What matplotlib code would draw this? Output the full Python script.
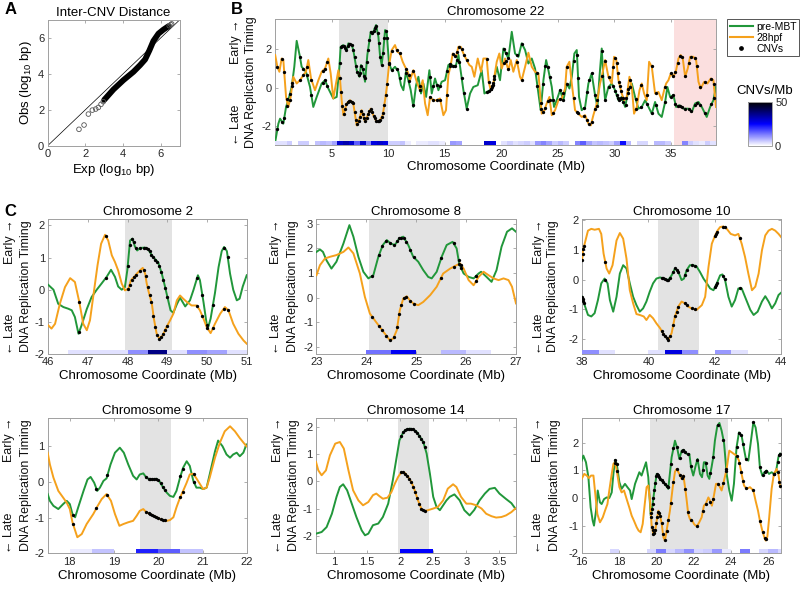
import numpy as np
import matplotlib
matplotlib.use('Agg')
import matplotlib.pyplot as plt
from matplotlib.colors import LinearSegmentedColormap, Normalize
from matplotlib.cm import ScalarMappable
from matplotlib.lines import Line2D
from matplotlib.ticker import FormatStrFormatter

plt.rcParams['font.family'] = ['Liberation Sans', 'DejaVu Sans']
plt.rcParams['mathtext.default'] = 'regular'

# ---------------- data ----------------
# A: QQ plot of inter-CNV distances (log10 bp)
a_sparse_x = [1.66, 1.93, 2.16, 2.37, 2.55, 2.69, 2.83, 2.95, 6.45, 6.53, 6.58]
a_sparse_y = [0.91, 1.15, 1.76, 1.98, 2.04, 2.13, 2.30, 2.45, 6.68, 6.74, 6.78]
a_dense_x = [3.0, 3.49, 4.02, 4.55, 4.9, 5.17, 5.4, 5.61, 5.88, 6.14, 6.41]
a_dense_y = [2.55, 3.13, 3.65, 4.11, 4.48, 4.8, 5.31, 5.83, 6.24, 6.46, 6.65]

# B: chromosome 22
b_pre_x = [0, 0.28, 0.43, 0.72, 0.96, 1.16, 1.46, 1.69, 1.9, 2.19,
           2.34, 2.72, 3.08, 3.37, 3.67, 4.11, 4.41, 4.7, 5.14, 5.44,
           5.68, 5.79, 6.03, 6.32, 6.47, 6.77, 6.91, 7.21, 7.45, 7.59,
           7.74, 7.95, 8.15, 8.45, 8.63, 8.74, 8.92, 9.13, 9.27, 9.42,
           9.57, 9.72, 9.86, 10.07, 10.31, 10.6, 10.9, 11.13, 11.34, 11.57,
           11.78, 11.99, 12.22, 12.46, 12.67, 12.9, 13.11, 13.35, 13.64, 13.85,
           14.14, 14.44, 14.73, 15.03, 15.32, 15.53, 15.76, 16.0, 16.21, 16.65,
           16.94, 17.24, 17.53, 17.92, 18.27, 18.51, 18.71, 19.01, 19.3, 19.6,
           19.89, 20.19, 20.42, 20.63, 20.93, 21.22, 21.52, 21.81, 22.11, 22.4,
           22.7, 22.99, 23.29, 23.49, 23.73, 23.97, 24.17, 24.47, 24.67, 24.91,
           25.2, 25.5, 25.79, 26.03, 26.24, 26.47, 26.68, 26.88, 27.12, 27.42,
           27.71,
           28.0, 28.3, 28.51, 28.69, 28.89, 29.04, 29.19, 29.48, 29.78, 30.07,
           30.37, 30.66, 30.96, 31.25, 31.55, 31.84, 32.14, 32.43, 32.73, 33.02,
           33.32, 33.61, 33.91, 34.2, 34.5, 34.7, 34.94, 35.23, 35.47, 35.77,
           36.12, 36.56, 36.86, 37.15, 37.45, 37.74, 38.18, 38.48, 38.77, 39.0]
b_pre_y = [-2.83, -1.88, -1.62, -1.88, -1.01, -0.66, 0.03, 1.08, 2.43, 1.6,
           1.08, 0.82, 0.03, -1.01, -0.49, 0.21, 0.38, -0.05, -0.57, -0.49,
           1.08, 2.12, 2.21, 1.95, 2.3, 2.21, 1.95, 0.9, 0.56, 1.17,
           0.99, 0.3, 1.69, 2.9, 2.82, 2.99, 3.25, 2.64, 1.69, 1.17,
           1.95, 2.99, 2.9, 1.25, 0.9, 1.08, 0.82, 0.12, -0.14, 0.82,
           0.38, -0.14, -1.01, 0.12, 0.56, -0.31, 0.21, -0.49, 0.9, -0.31,
           0.47, -0.14, 0.3, 0.38, 1.17, 1.25, 1.08, 1.17, 1.7, -0.14,
           -1.1, -0.31, 0.03, 0.12, 0.9, -0.31, -0.23, -0.14, 0.12, 1.08,
           0.38, 2.03, 1.77, 1.51, 2.9, 1.77, 1.6, 2.3, 1.95, 1.25,
           1.51, 0.99, -0.31, -1.18, 0.38, 1.43, 0.9, 0.03, -1.01, -0.66,
           -0.14, -0.66, 0.21, -0.05, 0.56, 1.77, 1.95, -0.49, -1.18, -1.01,
           0.21,
           0.73, -0.4, -1.0, 0.56, 2.03, 0.38, -0.66, 0.03, 0.21, -0.14,
           -0.66, -0.49, -1.01, -0.14, 0.21, -0.49, -1.1, -1.01, -0.66, -1.01,
           -1.36, -0.75, -1.36, -1.53, -0.75, 0.03, -0.49, -0.4, -1.01, -0.92,
           -1.1, -1.1, -1.27, -0.83, -0.75, -1.01, -1.53, -1.01, -0.66, 0.03]
b_28_x = [0, 0.19, 0.37, 0.57, 0.72, 0.96, 1.16, 1.37, 1.6, 1.9,
          2.19, 2.49, 2.72, 2.93, 3.17, 3.52, 3.82, 4.11, 4.41, 4.7,
          4.91, 5.14, 5.38, 5.59, 5.74, 5.88, 6.03, 6.32, 6.62, 6.91,
          7.21, 7.45, 7.65, 7.95, 8.18, 8.45, 8.68, 8.98, 9.27, 9.51,
          9.72, 9.86, 10.07, 10.31, 10.6, 10.81, 11.04, 11.28, 11.49, 11.72,
          11.93, 12.22, 12.52, 12.81, 13.05, 13.26, 13.49, 13.7, 13.99, 14.29,
          14.58, 14.88, 15.11, 15.32, 15.53, 15.71, 16.0, 16.21, 16.41, 16.65,
          16.94, 17.18, 17.39, 17.62, 17.92, 18.21, 18.42, 18.71, 18.89, 19.07,
          19.3, 19.6, 19.83, 20.04, 20.34, 20.63, 20.84, 21.07, 21.37, 21.66,
          21.81, 22.11, 22.4, 22.7, 22.99, 23.29, 23.58, 23.82, 24.02, 24.26,
          24.47, 24.76, 25.06, 25.35, 25.65, 25.79, 26.03, 26.24, 26.53, 26.83,
          27.12, 27.42, 27.71, 27.92, 28.15, 28.45, 28.74,
          28.89, 29.19, 29.48, 29.78, 29.98, 30.16, 30.37, 30.66, 30.87, 31.1,
          31.34, 31.55, 31.75, 31.99, 32.23, 32.43, 32.64, 32.87, 33.08, 33.32,
          33.61, 33.91, 34.2, 34.41, 34.59, 34.79, 35.0, 35.23, 35.47, 35.68,
          35.88, 36.06, 36.27, 36.5, 36.71, 37.0, 37.24, 37.45, 37.65, 37.95,
          38.24, 38.54, 38.77, 39.0]
b_28_y = [1.69, 1.08, 0.82, 1.51, 1.43, -0.49, -1.01, -0.49, 0.56, 0.21,
          0.38, 0.64, 0.82, 1.43, 0.47, -0.14, 0.38, 0.82, 0.99, 1.51,
          0.73, -0.57, 0.21, 0.9, 0.38, -0.66, -1.44, -0.83, -0.66, -0.83,
          -1.97, -1.62, -1.18, -1.79, -1.44, -1.1, -1.44, -1.79, -1.7, -1.44,
          -0.66, -0.05, 1.17, 1.95, 2.21, 1.86, 1.77, 1.34, 1.08, 0.82,
          0.38, 0.9, 0.3, -0.14, 0.38, -0.83, -1.44, -0.49, -0.66, -0.66,
          -0.57, -1.44, -1.18, 0.64, 1.17, 1.77, 1.6, 2.12, 2.12, 1.77,
          1.43, 1.17, 1.08, 0.56, 1.51, 0.82, 1.51, 1.51, 0.3, -0.14,
          0.21, 1.34, 1.77, 0.99, 1.51, 0.9, 1.43, 0.82, 1.43, 0.56,
          0.38, 1.08, 1.81, 1.08, 0.82, 0.73, -1.36, -1.18, -0.83, -0.49,
          -1.44, -1.18, -0.66, -0.57, -0.05, 1.08, 1.34, 0.21, -1.18, -1.36,
          -1.53, -1.44, -1.88, -1.97, -1.44, -0.83, 0.21,
          0.56, 1.43, 0.56, 0.21, 1.6, 1.51, 0.38, -0.31, -0.66, -0.49,
          0.56, 0.03, -1.36, -1.01, -0.14, 0.21, -0.31, -0.66, 1.34, 1.08,
          -0.31, -0.23, -0.66, -0.14, 0.21, 0.38, 0.73, 0.56, 0.9, 1.51,
          1.69, 1.51, 0.56, 0.99, 1.6, 1.6, 1.43, 0.3, -0.05, 0.3,
          0.21, 0.47, 0.38, -1.01]
b_cnv = [0.2, 0.6, 0.8, 1.0, 1.3, 1.5, 2.2, 2.5, 2.8, 3.2, 4.2, 4.4, 4.6,
         5.7, 5.82, 5.94, 6.06, 6.18, 6.3, 6.42, 6.54, 6.66, 6.78, 6.9, 7.02,
         7.14, 7.26, 7.38, 7.5, 7.62, 7.74, 7.86, 7.98, 8.1, 8.22, 8.34, 8.46,
         8.58, 8.7, 8.82, 8.94, 9.06, 9.18, 9.3, 9.42, 9.54, 9.66, 9.78, 9.9,
         10.1, 10.3, 10.75, 11.0, 11.6, 11.8, 12.2, 12.8, 13.7, 14.0, 14.3,
         14.6, 15.2, 15.5, 15.7, 15.9, 16.1, 16.3, 16.5, 16.7, 16.94, 18.7,
         18.9, 19.1, 19.2, 19.3, 19.4, 20.2, 20.4, 20.6, 21.4, 21.8, 23.2,
         23.5, 23.7, 23.9, 24.1, 24.3, 24.6, 25.2, 25.5, 25.8, 26.4, 26.7,
         26.8, 27.3, 27.6, 27.8, 28.0, 28.3, 28.5, 28.9, 29.2, 29.5, 29.9,
         30.1, 30.2, 30.3, 30.4, 30.5, 30.6, 30.8, 31.0, 31.2, 31.4, 31.9,
         32.4, 32.9, 33.3, 33.7, 34.5, 35.0, 35.2, 35.4, 35.6, 35.8, 36.0,
         36.3, 36.6, 36.8, 37.1, 37.3, 37.6, 38.0, 38.6, 38.8]
b_density = [3, 3, 5, 0, 5, 5, 0, 6, 7, 6,
             9, 30, 33, 30, 16, 30, 12, 28, 30, 28,
             5, 5, 6, 2, 0, 2, 2, 3, 3, 2,
             0, 10, 9, 0, 0, 0, 0, 30, 28, 0,
             3, 5, 3, 4, 5, 3, 10, 12, 9, 5,
             7, 5, 0, 12, 16, 9, 6, 7, 6, 5,
             9, 24, 7, 0, 4, 4, 0, 7, 7, 5,
             0, 0, 12, 5, 3, 2, 5, 3]
b_shade = (5.65, 10.0)
b_pink = (35.3, 39.0)

# C: chromosome 2
c2_pre_x = [46.0, 46.13, 46.25, 46.38, 46.5, 46.59, 46.67, 46.76, 46.84, 46.97,
            47.09, 47.22, 47.34, 47.47, 47.58, 47.68, 47.76, 47.85, 47.93, 47.99,
            48.06, 48.12, 48.18, 48.24, 48.31, 48.44, 48.52, 48.61, 48.69, 48.77,
            48.86, 48.94, 49.03, 49.08, 49.15, 49.24, 49.32, 49.45, 49.57, 49.66,
            49.77, 49.82, 49.91, 49.99, 50.03, 50.09, 50.2, 50.29, 50.37, 50.43,
            50.5, 50.58, 50.66, 50.75, 50.82, 50.9, 51.0]
c2_pre_y = [0.15, 0.0, -0.44, -0.54, -0.59, -0.64, -0.85, -1.37, -1.1, -0.6,
            -0.23, 0.0, 0.19, 0.4, 0.62, 0.4, 0.1, 0.0, 0.08, 0.6,
            1.53, 1.59, 1.35, 1.22, 1.3, 1.31, 1.25, 1.07, 0.95, 0.85,
            0.5, 0.1, -0.38, -0.64, -0.72, -0.45, -0.25, -0.52, -0.33, 0.0,
            0.45, 0.3, -0.38, -1.06, -1.16, -0.9, -0.1, 0.7, 1.2, 1.33,
            1.2, 0.5, 0.0, -0.33, -0.28, 0.1, 0.45]
c2_28_x = [46.0, 46.08, 46.17, 46.29, 46.42, 46.55, 46.67, 46.78, 46.88, 46.97,
           47.05, 47.13, 47.24, 47.33, 47.43, 47.51, 47.6, 47.68, 47.76, 47.85,
           47.93, 48.02, 48.08, 48.14, 48.23, 48.31, 48.38, 48.44, 48.48, 48.53,
           48.61, 48.66, 48.73, 48.8, 48.88, 48.98, 49.07, 49.15, 49.24, 49.32,
           49.4, 49.49, 49.61, 49.74, 49.82, 49.91, 49.99, 50.09, 50.2, 50.33,
           50.45, 50.54, 50.66, 50.79, 50.92, 51.0]
c2_28_y = [-1.11, -1.21, -1.06, -0.44, 0.08, 0.36, 0.24, -0.38, -1.06, -1.26,
           -0.95, -0.23, 0.76, 1.43, 1.71, 1.53, 1.07, 0.86, 0.6, 0.19,
           -0.02, 0.03, 0.29, 0.37, 0.5, 0.6, 0.68, 0.5, 0.19, -0.07,
           -0.44, -0.9, -1.37, -1.52, -1.42, -1.16, -0.95, -0.75, -0.33, -0.18,
           -0.28, -0.38, -0.49, -0.49, -0.64, -0.9, -1.16, -1.35, -1.06, -0.75,
           -0.54, -0.64, -1.06, -1.37, -1.58, -1.68]
c2_cnv = [46.78, 47.45, 48.0, 48.05, 48.1, 48.15, 48.2, 48.3, 48.4, 48.45,
          48.5, 48.55, 48.6, 48.65, 48.7, 48.75, 48.8, 48.85, 48.9, 48.95,
          49.0, 49.75, 49.88, 50.0, 50.15, 50.42, 50.52]
c2_density = [3, 3, 3, 11, 37, 3, 11, 9, 3]
c2_strip_start = 46.5
c2_shade = (47.92, 49.12)

# C: chromosome 8
c8_pre_x = [23.0, 23.07, 23.13, 23.2, 23.3, 23.4, 23.54, 23.66, 23.74, 23.84,
            23.94, 24.04, 24.14, 24.24, 24.33, 24.41, 24.49, 24.57, 24.66, 24.74,
            24.84, 24.94, 25.04, 25.14, 25.24, 25.31, 25.41, 25.51, 25.61, 25.73,
            25.81, 25.86, 25.95, 26.05, 26.15, 26.25, 26.3, 26.41, 26.51, 26.61,
            26.71, 26.82, 26.92, 27.0]
c8_pre_y = [1.86, 1.96, 1.86, 1.52, 1.18, 1.46, 2.2, 2.95, 2.48, 1.66,
            1.05, 0.78, 0.91, 1.66, 2.14, 2.34, 2.2, 2.14, 2.41, 2.48,
            2.14, 1.66, 1.46, 1.12, 0.84, 0.78, 1.05, 1.66, 2.14, 2.27,
            2.0, 1.39, 0.98, 0.84, 0.78, 0.98, 1.05, 0.84, 0.64, 1.12,
            2.07, 2.68, 2.82, 2.68]
c8_28_x = [23.0, 23.07, 23.17, 23.27, 23.4, 23.54, 23.64, 23.74, 23.87, 23.97,
           24.07, 24.17, 24.27, 24.37, 24.47, 24.54, 24.61, 24.67, 24.74, 24.81,
           24.87, 24.94, 25.04, 25.14, 25.28, 25.41, 25.54, 25.68, 25.81, 25.88,
           25.95, 26.05, 26.15, 26.25, 26.35, 26.45, 26.55, 26.65, 26.75, 26.85,
           26.92, 27.0]
c8_28_y = [0.91, 1.32, 1.59, 1.66, 1.73, 1.86, 2.04, 1.8, 0.98, 0.03,
           -0.65, -0.93, -1.2, -1.47, -1.74, -1.67, -1.33, -0.52, -0.04, 0.05,
           -0.11, -0.24, -0.31, -0.18, 0.1, 0.44, 0.98, 1.18, 1.32, 1.39,
           1.18, 0.71, 0.5, 0.84, 1.05, 0.91, 0.78, 0.71, 0.78, 0.71,
           0.44, -0.24]
c8_cnv = [24.12, 24.25, 24.32, 24.4, 24.47, 24.55, 24.62, 24.66, 24.7, 24.75,
          24.8, 24.88, 24.95, 25.5, 25.75, 25.85, 25.9, 26.2]
c8_density = [14, 26, 0, 7, 3]
c8_strip_start = 24.0
c8_shade = (24.06, 25.88)

# C: chromosome 10
c10_pre_x = [38.0, 38.08, 38.18, 38.28, 38.38, 38.48, 38.58, 38.68, 38.77, 38.84,
             38.94, 39.04, 39.14, 39.24, 39.34, 39.44, 39.54, 39.64, 39.74, 39.84,
             39.94, 40.04, 40.14, 40.24, 40.35, 40.47, 40.6, 40.7, 40.8, 40.9,
             41.0, 41.07, 41.15, 41.25, 41.35, 41.45, 41.55, 41.66, 41.76, 41.86,
             41.96, 42.06, 42.16, 42.23, 42.31, 42.41, 42.51, 42.61, 42.71, 42.81,
             42.91, 43.07, 43.17, 43.29, 43.42, 43.52, 43.62, 43.72, 43.82, 43.92,
             44.0]
c10_pre_y = [-0.58, -0.86, -1.19, -1.24, -1.13, -0.69, -0.13, 0.03, -0.13, -0.69,
             -1.08, -0.58, 0.2, 0.48, 0.37, -0.13, -0.58, -0.86, -1.08, -0.97,
             -0.74, -0.41, -0.13, 0.03, 0.07, 0.03, -0.02, 0.14, 0.37, 0.26,
             -0.02, 0.03, 0.31, 0.48, 0.48, 0.44, 0.26, 0.03, -0.13, -0.3,
             -0.36, -0.13, 0.14, 0.17, -0.02, -0.58, -0.91, -0.69, -0.3, -0.3,
             -0.58, -1.02, -1.19, -1.08, -0.74, -0.56, -0.74, -0.97, -0.8, -0.52,
             -0.44]
c10_28_x = [38.0, 38.03, 38.08, 38.18, 38.28, 38.38, 38.51, 38.58, 38.65, 38.74,
            38.82, 38.92, 39.04, 39.14, 39.24, 39.34, 39.44, 39.54, 39.64, 39.74,
            39.86, 39.94, 40.04, 40.14, 40.24, 40.35, 40.47, 40.6, 40.7, 40.8,
            40.9, 41.0, 41.1, 41.2, 41.3, 41.45, 41.61, 41.71, 41.81, 41.91,
            42.01, 42.08, 42.16, 42.26, 42.36, 42.48, 42.61, 42.71, 42.81, 42.91,
            43.01, 43.12, 43.22, 43.32, 43.42, 43.52, 43.62, 43.72, 43.82, 43.92,
            44.0]
c10_28_y = [0.64, 0.98, 1.2, 1.64, 1.7, 1.67, 1.7, 1.53, 0.87, 0.37,
            0.2, 0.48, 1.31, 1.56, 1.37, 0.7, -0.36, -0.8, -1.16, -1.19,
            -1.24, -1.36, -1.19, -1.3, -1.47, -1.63, -1.86, -2.02, -1.8, -1.24,
            -0.91, -0.74, -0.8, -0.91, -0.97, -1.02, -0.86, -0.58, 0.42, 1.2,
            1.48, 1.64, 1.76, 1.78, 1.7, 1.53, 1.48, 1.53, 1.2, 0.76,
            0.2, -0.36, -0.24, 0.2, 0.98, 1.48, 1.64, 1.7, 1.64, 1.53,
            1.42]
c10_cnv = [38.0, 38.02, 38.04, 38.06, 38.7, 40.4, 40.45, 40.5, 40.55, 40.6,
           40.65, 40.75, 40.8, 40.85, 40.9, 41.1, 41.15, 41.3, 41.4, 42.0,
           42.03, 42.06, 42.25, 42.3, 42.75]
c10_density = [11, 3, 0, 0, 3, 28, 11, 0, 10, 3]
c10_strip_start = 38.0
c10_shade = (40.3, 41.53)

# C: chromosome 9
c9_pre_x = [17.5, 17.55, 17.63, 17.74, 17.85, 17.93, 18.0, 18.06, 18.12, 18.19,
            18.31, 18.4, 18.47, 18.55, 18.62, 18.68, 18.76, 18.83, 18.92, 19.02,
            19.13, 19.22, 19.32, 19.43, 19.51, 19.58, 19.66, 19.73, 19.81, 19.89,
            19.95, 20.02, 20.11, 20.19, 20.26, 20.34, 20.41, 20.49, 20.56, 20.64,
            20.71, 20.79, 20.86, 20.94, 21.01, 21.09, 21.16, 21.28, 21.35, 21.45,
            21.54, 21.62, 21.69, 21.77, 21.84, 21.92, 21.99]
c9_pre_y = [-0.34, -0.53, -0.67, -0.76, -0.62, -0.53, -0.62, -0.9, -0.99, -0.71,
            -0.25, 0.07, 0.14, -0.02, -0.25, -0.16, 0.03, 0.1, 0.49, 0.82,
            0.96, 0.82, 0.49, 0.17, 0.07, 0.21, 0.24, 0.12, 0.07, 0.07,
            0.09, 0.03, -0.16, -0.3, -0.39, -0.42, -0.25, 0.12, 0.4, 0.58,
            0.45, 0.03, -0.16, -0.16, -0.2, -0.16, 0.21, 0.86, 1.16, 1.0,
            0.77, 0.68, 0.77, 0.82, 0.72, 0.82, 1.05]
c9_28_x = [17.5, 17.55, 17.63, 17.74, 17.85, 17.93, 18.0, 18.06, 18.12, 18.17,
           18.27, 18.38, 18.53, 18.63, 18.72, 18.83, 18.93, 19.02, 19.12, 19.21,
           19.32, 19.43, 19.51, 19.58, 19.66, 19.73, 19.81, 19.89, 19.96, 20.04,
           20.11, 20.19, 20.26, 20.34, 20.41, 20.49, 20.56, 20.64, 20.71, 20.79,
           20.86, 20.94, 21.01, 21.09, 21.16, 21.28, 21.39, 21.5, 21.62, 21.73,
           21.84, 21.99]
c9_28_y = [0.82, 0.49, 0.12, -0.25, -0.44, -0.58, -0.76, -1.13, -1.36, -1.55,
           -1.46, -1.18, -0.9, -0.67, -0.48, -0.34, -0.53, -0.9, -1.23, -1.18,
           -1.13, -1.09, -0.95, -0.81, -0.76, -0.85, -0.9, -0.95, -0.99, -1.04,
           -1.07, -1.09, -1.07, -0.99, -0.71, -0.44, -0.25, -0.02, 0.21, 0.23,
           0.1, -0.06, -0.2, -0.16, 0.12, 0.68, 1.1, 1.42, 1.56, 1.42,
           1.23, 1.0]
c9_cnv = [18.07, 18.6, 18.85, 19.72, 19.78, 19.82, 19.86, 19.9, 19.95, 20.0,
          20.05, 20.1, 20.15, 20.5, 20.55, 20.8]
c9_density = [2, 6, 0, 22, 16, 6]
c9_strip_start = 18.0
c9_shade = (19.58, 20.28)

# C: chromosome 14
c14_pre_x = [0.73, 0.815, 0.89, 0.97, 1.04, 1.09, 1.14, 1.2, 1.27, 1.34,
             1.42, 1.47, 1.52, 1.59, 1.67, 1.74, 1.82, 1.89, 1.94, 1.99,
             2.05, 2.1, 2.15, 2.2, 2.25, 2.3, 2.35, 2.4, 2.45, 2.5,
             2.55, 2.6, 2.65, 2.7, 2.75, 2.82, 2.9, 2.97, 3.05, 3.12,
             3.2, 3.28, 3.35, 3.43, 3.5, 3.6, 3.68, 3.74]
c14_pre_y = [-1.92, -1.86, -1.68, -1.19, -0.57, -0.21, -0.11, -0.33, -0.82, -1.31,
             -1.8, -1.98, -1.92, -1.61, -1.55, -1.31, -0.82, 0.04, 0.77, 1.5,
             1.81, 1.9, 1.93, 1.9, 1.81, 1.63, 1.44, 1.02, 0.28, -0.57,
             -0.94, -1.06, -0.88, -0.7, -0.57, -0.48, -0.7, -1.06, -1.25, -1.05,
             -0.7, -0.45, -0.28, -0.24, -0.45, -0.65, -0.8, -1.0]
c14_28_x = [0.73, 0.765, 0.815, 0.88, 0.94, 1.02, 1.09, 1.15, 1.22, 1.29,
            1.37, 1.44, 1.52, 1.59, 1.64, 1.69, 1.74, 1.81, 1.87, 1.92,
            1.97, 2.02, 2.07, 2.12, 2.17, 2.22, 2.27, 2.32, 2.36, 2.42,
            2.5, 2.57, 2.65, 2.72, 2.8, 2.85, 2.92, 3.0, 3.07, 3.15,
            3.23, 3.3, 3.38, 3.45, 3.53, 3.6, 3.68, 3.74]
c14_28_y = [0.71, 0.4, 0.22, 0.4, 0.95, 1.38, 1.44, 1.2, 0.4, -0.33,
            -0.7, -0.88, -0.76, -0.51, -0.45, -0.55, -0.64, -0.6, -0.39, -0.09,
            0.16, 0.34, 0.31, 0.16, -0.02, -0.33, -0.7, -1.0, -1.09, -1.06,
            -1.0, -0.94, -0.7, -0.27, -0.11, -0.21, -0.57, -0.82, -0.82, -0.88,
            -1.0, -1.19, -1.28, -1.33, -1.31, -1.25, -1.13, -1.0]
c14_cnv = [2.02, 2.05, 2.08, 2.11, 2.14, 2.17, 2.2, 2.23, 2.26, 2.29,
           2.32, 2.35, 2.37]
c14_density = [25]
c14_strip_start = 2.0
c14_shade = (1.97, 2.44)

# C: chromosome 17
c17_pre_x = [16.0, 16.09, 16.23, 16.36, 16.48, 16.59, 16.66, 16.77, 16.86, 16.98,
             17.07, 17.2, 17.34, 17.48, 17.61, 17.7, 17.79, 17.88, 18.02, 18.14,
             18.32, 18.45, 18.59, 18.68, 18.86, 19.09, 19.21, 19.45, 19.57, 19.7,
             19.79, 19.93, 20.02, 20.11, 20.2, 20.29, 20.46, 20.64, 20.82, 21.0,
             21.13, 21.23, 21.36, 21.48, 21.63, 21.77, 21.86, 21.98, 22.11, 22.21,
             22.34, 22.45, 22.55, 22.64, 22.75, 22.84, 22.96, 23.05, 23.14, 23.27,
             23.38, 23.5, 23.63, 23.77, 23.91, 24.04, 24.16, 24.3, 24.43, 24.57,
             24.7, 24.8, 24.93, 25.05, 25.2, 25.32, 25.45, 25.55, 25.68, 25.79,
             25.91, 26.04, 26.18, 26.3, 26.41, 26.54, 26.63, 26.68]
c17_pre_y = [1.35, 1.53, 1.29, 0.75, -0.34, -0.82, -1.0, -0.46, 0.27, -0.16,
             -0.22, -0.04, 0.02, 0.0, 0.2, 0.87, 1.37, 1.23, 0.57, 0.33,
             0.51, 0.39, 0.27, -0.04, 0.51, 0.93, 0.81, 1.29, 0.75, -0.64,
             -0.28, 0.45, 0.87, 0.81, 0.69, 0.63, 0.51, 0.33, 1.47, 2.07,
             1.77, 1.41, 1.71, 1.73, 1.59, 1.59, 1.11, 0.81, 1.17, 1.41,
             0.87, 0.75, 1.29, 1.29, 0.81, 0.69, 1.11, 1.47, 2.07, 2.61,
             2.71, 2.43, 1.99, 0.87, 0.27, -0.1, 0.51, 1.83, 2.37, 2.25,
             1.77, 1.41, 1.35, 1.95, 2.73, 2.55, 1.95, 1.11, 0.81, 0.93,
             0.99, 0.87, 0.93, 0.87, 0.93, 1.47, 1.61, 1.53]
c17_28_x = [16.0, 16.14, 16.27, 16.39, 16.5, 16.63, 16.71, 16.84, 16.98, 17.13,
            17.25, 17.38, 17.48, 17.61, 17.7, 17.79, 17.88, 18.02, 18.14, 18.27,
            18.41, 18.55, 18.68, 18.8, 18.95, 19.05, 19.16, 19.27, 19.38, 19.48,
            19.57, 19.66, 19.75, 19.84, 19.93, 20.02, 20.11, 20.2, 20.29, 20.38,
            20.46, 20.55, 20.73, 20.88, 21.0, 21.09, 21.23, 21.36, 21.45, 21.54,
            21.63, 21.71, 21.8, 21.93, 22.02, 22.11, 22.2, 22.3, 22.43, 22.55,
            22.66, 22.79, 22.88, 22.98, 23.09, 23.2, 23.32, 23.41, 23.5, 23.63,
            23.77, 23.91, 24.04, 24.16, 24.3, 24.43, 24.57, 24.7, 24.84, 25.02,
            25.2, 25.32, 25.45, 25.55, 25.68, 25.79, 25.86, 25.95, 26.05, 26.18,
            26.3, 26.45, 26.54, 26.63, 26.68]
c17_28_y = [0.69, 0.87, 0.81, 0.72, 0.81, 0.81, 0.27, -0.58, -0.88, -0.7,
            -0.46, -0.22, 0.27, 0.87, 1.23, 1.29, 0.99, 0.39, 0.2, 0.27,
            -0.04, -0.34, -0.64, -0.82, -1.06, -1.18, -1.24, -0.94, -0.22, 0.39,
            0.45, -0.1, -1.0, -1.3, -1.24, -0.82, -0.46, -0.64, -0.94, -1.42,
            -1.54, -1.18, -0.46, 0.39, 0.95, 1.05, 0.87, 0.69, 0.81, 0.39,
            -0.1, -0.58, -0.76, -0.82, -0.94, -1.0, -1.0, -0.88, -0.7, -0.28,
            -0.2, 0.02, -0.1, -0.28, 0.1, 0.51, 0.51, 0.39, 0.27, 0.63,
            1.05, 1.71, 1.65, 1.59, 1.53, 1.35, 0.87, 0.45, 0.33, 0.39,
            0.27, -0.1, -0.46, -0.82, -1.18, -1.42, -1.54, -1.4, -0.7, 0.33,
            0.87, 1.05, 0.87, 0.45, 0.39]
c17_cnv = [17.8, 17.88, 19.72, 19.76, 19.8, 19.84, 19.9, 19.95, 20.0, 20.05,
           20.1, 20.15, 20.2, 20.28, 20.36, 20.45, 20.55, 20.65, 20.78, 20.92,
           21.1, 21.25, 21.35, 21.45, 21.55, 21.7, 21.85, 22.2, 22.5, 22.65,
           22.9, 23.05, 23.3, 23.6, 23.75, 24.3, 24.45, 24.55, 24.65, 24.8,
           25.2, 25.55, 25.7, 25.8, 25.9, 26.3, 26.5, 26.6, 26.65]
c17_density = [4, 0, 0, 0, 4, 13, 4, 7, 11, 4, 5, 10, 2, 0, 13, 0, 4, 7, 4]
c17_strip_start = 17.5
c17_shade = (19.65, 23.85)

BIN = 0.5  # Mb per density bin

# ---------------- style ----------------
GREEN = '#21973a'
ORANGE = '#f5a11c'
SHADE = '#e3e3e3'
PINK = '#fbdfdf'
AXC = '#a0a0a0'
TXT = '#262626'
cmap = LinearSegmentedColormap.from_list(
    'cnv', [(0, 'white'), (0.5, '#0000ff'), (1, 'black')])
norm = Normalize(0, 50)

fig = plt.figure(figsize=(8, 5.9), dpi=100)


def style(ax, xticks, yticks):
    ax.set_xticks(xticks)
    ax.set_yticks(yticks)
    ax.xaxis.set_major_formatter(FormatStrFormatter('%g'))
    ax.yaxis.set_major_formatter(FormatStrFormatter('%g'))
    for s in ax.spines.values():
        s.set_color(AXC)
        s.set_linewidth(0.7)
    ax.tick_params(direction='in', top=True, right=True, length=2.5, width=0.6,
                   color=AXC, labelcolor=TXT, labelsize=8, pad=2.5)


def timing_labels(ax, d_label, d_arrow):
    kw = dict(xycoords='axes fraction', textcoords='offset points',
              rotation=90, ha='center', fontsize=9, color='#111111')
    ax.annotate('DNA Replication Timing', xy=(0, 0.5), xytext=(-d_label, 0),
                va='center', **kw)
    ax.annotate('\u2190 Late', xy=(0, 0), xytext=(-d_arrow, 0), va='bottom', **kw)
    ax.annotate('Early \u2192', xy=(0, 1), xytext=(-d_arrow, 0), va='top', **kw)


def track(ax, xg, yg, xo, yo, cnv, strip_start, dens, xlim, ylim):
    ax.plot(xg, yg, color=GREEN, lw=1.4, zorder=3)
    ax.plot(xo, yo, color=ORANGE, lw=1.4, zorder=3)
    cnv = np.asarray(cnv, float)
    for xs, ys in ((xg, yg), (xo, yo)):
        ax.plot(cnv, np.interp(cnv, xs, ys), 'o', ms=2.4, mfc='k', mec='k',
                mew=0, zorder=4)
    d = np.ma.masked_equal(np.asarray(dens, float), 0)
    edges = strip_start + BIN * np.arange(len(dens) + 1)
    y0, y1 = ylim
    ax.pcolormesh(edges, [y0, y0 + 0.032 * (y1 - y0)], d[np.newaxis, :],
                  cmap=cmap, norm=norm, zorder=5)
    ax.set_xlim(xlim)
    ax.set_ylim(ylim)


# ---------------- panel A ----------------
axA = fig.add_axes([0.0596, 0.7531, 0.1649, 0.2131])
axA.axline((0, 0), slope=1, color='k', lw=0.5, zorder=1)
axA.plot(a_dense_x, a_dense_y, color='k', lw=4.2, solid_capstyle='round', zorder=2)
axA.scatter(a_sparse_x, a_sparse_y, s=11, facecolors='none', edgecolors='#555555',
            linewidths=0.6, zorder=3)
axA.set_xlim(0, 7)
axA.set_ylim(0, 7)
style(axA, [0, 2, 4, 6], [0, 2, 4, 6])
axA.set_title('Inter-CNV Distance', fontsize=9.5, pad=3)
axA.set_xlabel('Exp (log$_{10}$ bp)', fontsize=9.5, labelpad=2)
axA.set_ylabel('Obs (log$_{10}$ bp)', fontsize=9.5, labelpad=3)

# ---------------- panel B ----------------
axB = fig.add_axes([0.344, 0.7539, 0.551, 0.2134])
axB.axvspan(*b_shade, color=SHADE, lw=0, zorder=0)
axB.axvspan(*b_pink, color=PINK, lw=0, zorder=0)
track(axB, b_pre_x, b_pre_y, b_28_x, b_28_y, b_cnv, 0.0, b_density,
      (0, 39), (-3.0, 3.55))
style(axB, [5, 10, 15, 20, 25, 30, 35], [-2, 0, 2])
axB.set_title('Chromosome 22', fontsize=9.5, pad=3)
axB.set_xlabel('Chromosome Coordinate (Mb)', fontsize=9.5, labelpad=2)
timing_labels(axB, 17.6, 28.4)

handles = [Line2D([], [], color=GREEN, lw=1.5),
           Line2D([], [], color=ORANGE, lw=1.5),
           Line2D([], [], color='k', marker='o', ms=2.4, lw=0)]
leg = axB.legend(handles, ['pre-MBT', '28hpf', 'CNVs'], loc='upper left',
                 bbox_to_anchor=(1.025, 1.003), fontsize=7.5, frameon=True,
                 fancybox=False, edgecolor='#555555', framealpha=1,
                 handlelength=2.2, borderpad=0.25, labelspacing=0.1,
                 handletextpad=0.35, borderaxespad=0)
leg.get_frame().set_linewidth(0.7)

cax = fig.add_axes([0.9346, 0.753, 0.0308, 0.074])
cb = fig.colorbar(ScalarMappable(norm=norm, cmap=cmap), cax=cax, ticks=[0, 50])
cb.outline.set_edgecolor(AXC)
cb.outline.set_linewidth(0.7)
cax.tick_params(length=0, labelsize=8, labelcolor=TXT, pad=2)
fig.text(765 / 800, 1 - 91 / 590, 'CNVs/Mb', ha='center', va='center', fontsize=9.5)

# ---------------- panel C ----------------
panels = [
    dict(pos=[0.0604, 0.400, 0.248, 0.2288], title='Chromosome 2',
         data=(c2_pre_x, c2_pre_y, c2_28_x, c2_28_y, c2_cnv, c2_strip_start, c2_density),
         shade=c2_shade, xlim=(46, 51), ylim=(-2, 2.2),
         xticks=[46, 47, 48, 49, 50, 51], yticks=[-2, -1, 0, 1, 2], off=(15.8, 27.4)),
    dict(pos=[0.3956, 0.400, 0.2494, 0.2288], title='Chromosome 8',
         data=(c8_pre_x, c8_pre_y, c8_28_x, c8_28_y, c8_cnv, c8_strip_start, c8_density),
         shade=c8_shade, xlim=(23, 27), ylim=(-2.3, 3.2),
         xticks=[23, 24, 25, 26, 27], yticks=[-2, -1, 0, 1, 2, 3], off=(17.0, 29.3)),
    dict(pos=[0.7275, 0.400, 0.249, 0.2288], title='Chromosome 10',
         data=(c10_pre_x, c10_pre_y, c10_28_x, c10_28_y, c10_cnv, c10_strip_start, c10_density),
         shade=c10_shade, xlim=(38, 44), ylim=(-2.5, 2.03),
         xticks=[38, 40, 42, 44], yticks=[-2, -1, 0, 1, 2], off=(20.9, 31.0)),
    dict(pos=[0.0596, 0.0622, 0.249, 0.2298], title='Chromosome 9',
         data=(c9_pre_x, c9_pre_y, c9_28_x, c9_28_y, c9_cnv, c9_strip_start, c9_density),
         shade=c9_shade, xlim=(17.5, 22), ylim=(-2, 1.8),
         xticks=[18, 19, 20, 21, 22], yticks=[-2, -1, 0, 1], off=(15.6, 28.1)),
    dict(pos=[0.395, 0.0622, 0.25, 0.2298], title='Chromosome 14',
         data=(c14_pre_x, c14_pre_y, c14_28_x, c14_28_y, c14_cnv, c14_strip_start, c14_density),
         shade=c14_shade, xlim=(0.73, 3.75), ylim=(-2.64, 2.33),
         xticks=[1, 1.5, 2, 2.5, 3, 3.5], yticks=[-2, -1, 0, 1, 2], off=(15.8, 27.7)),
    dict(pos=[0.7271, 0.0622, 0.2491, 0.2298], title='Chromosome 17',
         data=(c17_pre_x, c17_pre_y, c17_28_x, c17_28_y, c17_cnv, c17_strip_start, c17_density),
         shade=c17_shade, xlim=(16, 26.68), ylim=(-2, 2.9),
         xticks=[16, 18, 20, 22, 24, 26], yticks=[-2, -1, 0, 1, 2], off=(19.2, 31.5)),
]

for p in panels:
    ax = fig.add_axes(p['pos'])
    ax.axvspan(*p['shade'], color=SHADE, lw=0, zorder=0)
    track(ax, *p['data'], p['xlim'], p['ylim'])
    style(ax, p['xticks'], p['yticks'])
    ax.set_title(p['title'], fontsize=9.5, pad=3)
    ax.set_xlabel('Chromosome Coordinate (Mb)', fontsize=9.5, labelpad=2)
    timing_labels(ax, *p['off'])

for letter, x, y in (('A', 0.006, 0.997), ('B', 0.288, 0.997), ('C', 0.006, 0.655)):
    fig.text(x, y, letter, fontsize=12, fontweight='bold', va='top', ha='left')

fig.savefig('out.png', dpi=100)
